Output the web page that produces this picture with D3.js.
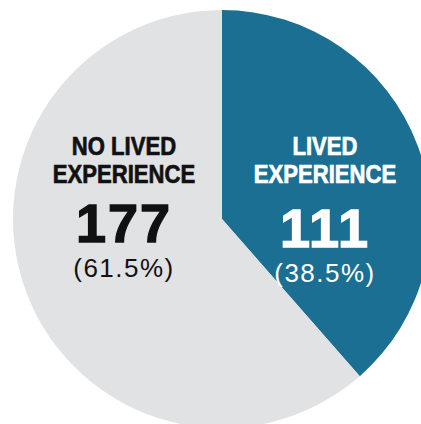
<!DOCTYPE html>
<html>
<head>
<meta charset="utf-8">
<script src="https://cdn.jsdelivr.net/npm/d3@7"></script>
<style>
  body { margin: 0; background: #fff; }
  .head { font-family: "Liberation Sans", Arial, sans-serif; font-weight: bold; }
  .num { font-family: "Liberation Sans", Arial, sans-serif; font-weight: 900; }
  .pct { font-family: "Liberation Sans", Arial, sans-serif; letter-spacing: 1.5px; }
</style>
</head>
<body>
<svg id="chart"></svg>
<script>
var categories = ["LIVED EXPERIENCE", "NO LIVED EXPERIENCE"];
var headLines = [["LIVED", "EXPERIENCE"], ["NO LIVED", "EXPERIENCE"]];
var counts = [111, 177];
var pctLabels = ["(38.5%)", "(61.5%)"];
var colors = ["#1b6f93", "#e1e2e4"];
var textColors = ["#ffffff", "#111111"];

var width = 421, height = 424,
    cx = 222, cy = 219, radius = 209;

var svg = d3.select("#chart")
    .attr("width", width)
    .attr("height", height);

var g = svg.append("g")
    .attr("transform", "translate(" + cx + "," + cy + ")");

var data = categories.map(function(c, i) { return { name: c, value: counts[i], i: i }; });

var pie = d3.pie().sort(null).value(d => d.value);
var arc = d3.arc().innerRadius(0).outerRadius(radius);

g.selectAll(".slice")
    .data(pie(data))
    .enter().append("path")
    .attr("class", "slice")
    .attr("d", arc)
    .attr("fill", d => colors[d.data.i]);

// label blocks, one per slice
var labelX = [103, -98];   // offset from center
var numY = [28, 23];       // number baseline offset
var pctY = [63, 58];

var labels = g.selectAll(".label")
    .data(data)
    .enter().append("g")
    .attr("class", "label")
    .attr("transform", d => "translate(" + labelX[d.i] + ",0)")
    .attr("text-anchor", "middle")
    .attr("fill", d => textColors[d.i]);

labels.each(function(d) {
    var el = d3.select(this);
    headLines[d.i].forEach(function(line, k) {
        // condensed look: squeeze the bold face horizontally
        el.append("text")
            .attr("class", "head")
            .attr("transform", "translate(0," + (-64 + k * 28) + ") scale(0.85,1)")
            .style("font-size", "26px")
            .attr("stroke", textColors[d.i])
            .attr("stroke-width", 0.7)
            .text(line);
    });
    el.append("text")
        .attr("class", "num")
        .attr("y", numY[d.i])
        .style("font-size", "54px")
        .style("letter-spacing", "2px")
        .attr("stroke", textColors[d.i])
        .attr("stroke-width", 1.4)
        .text(d.value);
    el.append("text")
        .attr("class", "pct")
        .attr("y", pctY[d.i])
        .style("font-size", "26px")
        .text(pctLabels[d.i]);
});
</script>
</body>
</html>
